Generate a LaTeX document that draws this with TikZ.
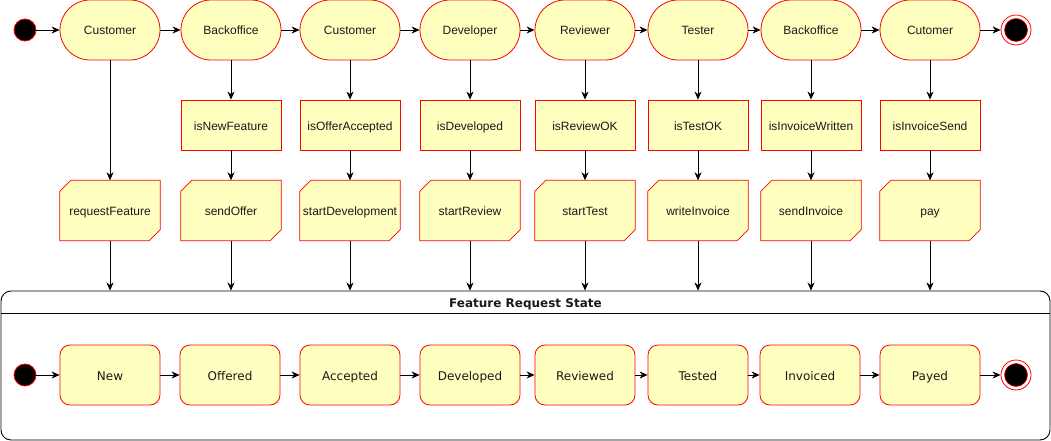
\documentclass[tikz,border=0pt]{standalone}
\usepackage{fontspec}
\setmainfont{Liberation Sans}
\newfontfamily\dejavu{DejaVu Sans}
\usetikzlibrary{arrows.meta,backgrounds,calc}
\definecolor{stfill}{HTML}{FFFFC0}
\definecolor{stline}{HTML}{FF0000}
\definecolor{txt}{HTML}{1A1A1A}
\begin{document}
\begin{tikzpicture}[x=1pt,y=-1pt,
  every node/.style={font=\fontsize{12}{14}\selectfont, text=txt, text height=10pt, text depth=0pt},
  topst/.style={draw=stline, fill=stfill, rounded corners=30pt, minimum width=100pt, minimum height=60pt, inner sep=0pt, line width=0.8pt},
  decbox/.style={draw=stline, fill=stfill, minimum width=100pt, minimum height=50pt, inner sep=0pt, line width=0.8pt},
  cardbox/.style={minimum width=100pt, minimum height=60pt, inner sep=0pt},
  cardline/.style={draw=stline, fill=stfill, line width=0.8pt},
  botst/.style={draw=stline, fill=stfill, rounded corners=10pt, minimum width=100pt, minimum height=60pt, inner sep=0pt, line width=0.8pt, font=\dejavu\fontsize{12}{14}\selectfont},
  startst/.style={circle, draw=stline, fill=black, minimum size=22pt, inner sep=0pt, line width=0.8pt},
  endst/.style={circle, draw=stline, fill=white, minimum size=30pt, inner sep=0pt, line width=0.8pt},
  endin/.style={circle, draw=stline, fill=black, minimum size=23pt, inner sep=0pt, line width=0.6pt},
  arr/.style={-{Stealth[length=8pt,width=7pt,inset=2.5pt]}, line width=0.8pt, draw=black},
  contbox/.style={draw=black, rounded corners=10pt, minimum width=1049pt, minimum height=149pt, inner sep=0pt, line width=0.9pt}
]
\useasboundingbox (0,0) rectangle (1051,441);

% container
\node[contbox] (cont) at (525.5,365.5) {};
\coordinate (hdl) at (1,313);
\coordinate (hdr) at (1050,313);
\draw[line width=0.9pt] (hdl) -- (hdr);
\node[font=\dejavu\bfseries\fontsize{12}{14}\selectfont] (title) at (525.5,302) {Feature Request State};

% top row
\node[startst] (s0) at (25,30) {};
\foreach \i/\x/\nm in {1/110/Customer,2/231/Backoffice,3/350/Customer,4/470/Developer,5/585/Reviewer,6/698/Tester,7/811/Backoffice,8/930/Cutomer}{
  \node[topst] (t\i) at (\x,30) {\nm};
}
\node[endst] (e0) at (1016,30) {};
\node[endin] (e0i) at (1016,30) {};

\draw[arr] (s0) -- (t1);
\foreach \a/\b in {1/2,2/3,3/4,4/5,5/6,6/7,7/8}{
  \draw[arr] (t\a) -- (t\b);
}
\draw[arr] (t8) -- (e0);

% decisions
\foreach \i/\x/\nm in {2/231/isNewFeature,3/350/isOfferAccepted,4/470/isDeveloped,5/585/isReviewOK,6/698/isTestOK,7/811/isInvoiceWritten,8/930/isInvoiceSend}{
  \node[decbox] (d\i) at (\x,125) {\nm};
}

% cards
\foreach \i/\x/\nm in {1/110/requestFeature,2/231/sendOffer,3/350/startDevelopment,4/470/startReview,5/585/startTest,6/698/writeInvoice,7/811/sendInvoice,8/930/pay}{
  \node[cardbox] (c\i) at (\x,210.5) {\nm};
  \begin{pgfonlayer}{background}
    \draw[cardline] ([xshift=11pt]c\i.north west) -- (c\i.north east) -- ([yshift=11pt]c\i.south east) -- ([xshift=-11pt]c\i.south east) -- (c\i.south west) -- ([yshift=-11pt]c\i.north west) -- cycle;
  \end{pgfonlayer}
}

% vertical connectors
\draw[arr] (t1) -- (c1);
\foreach \i in {2,...,8}{
  \draw[arr] (t\i) -- (d\i);
  \draw[arr] (d\i) -- (c\i);
}
\foreach \i in {1,...,8}{
  \draw[arr] (c\i.south) -- (c\i.south |- cont.north);
}

% bottom row
\node[startst] (s1) at (25,375) {};
\foreach \i/\x/\nm in {1/110/New,2/230/Offered,3/350/Accepted,4/470/Developed,5/585/Reviewed,6/698/Tested,7/810/Invoiced,8/930/Payed}{
  \node[botst] (b\i) at (\x,375) {\nm};
}
\node[endst] (e1) at (1016,375) {};
\node[endin] (e1i) at (1016,375) {};
\draw[arr] (s1) -- (b1);
\foreach \a/\b in {1/2,2/3,3/4,4/5,5/6,6/7,7/8}{
  \draw[arr] (b\a) -- (b\b);
}
\draw[arr] (b8) -- (e1);
\end{tikzpicture}
\end{document}
